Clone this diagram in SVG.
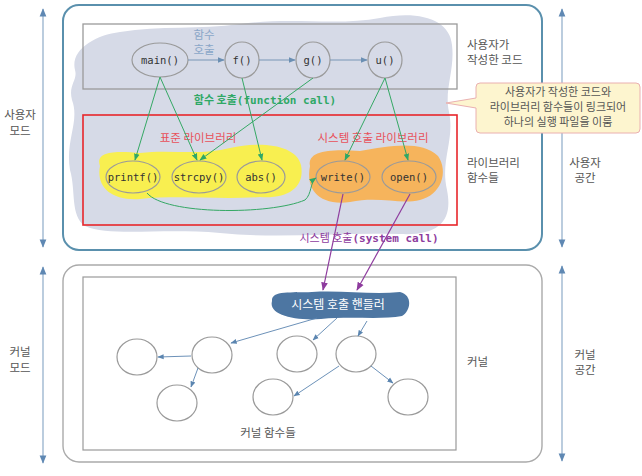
<svg xmlns="http://www.w3.org/2000/svg" width="642" height="476" viewBox="0 0 642 476">
<defs>
<style>
.kr{font-family:"Noto Sans CJK KR","Noto Sans",sans-serif;font-size:11.5px;fill:#555}
.code{font-family:"DejaVu Sans Mono","Liberation Mono",monospace;font-size:10.5px;fill:#333}
.el{fill:none;stroke:#9a9a9a;stroke-width:1.2}
.kc{fill:#fff;stroke:#9a9a9a;stroke-width:1.2}
.fc{stroke:#7896b6;stroke-width:1;fill:none}
.gc{stroke:#35a865;stroke-width:1;fill:none}
.pc{stroke:#8e3c9e;stroke-width:1.2;fill:none}
.kcn{stroke:#5b85b0;stroke-width:0.9;fill:none}
.side{stroke:#8eabc8;stroke-width:1.2;fill:none}
</style>
<marker id="ab" viewBox="0 0 10 10" refX="9" refY="5" markerWidth="7" markerHeight="7" orient="auto"><path d="M0,1 L10,5 L0,9 z" fill="#6b8fb3"/></marker>
<marker id="ag" viewBox="0 0 10 10" refX="9" refY="5" markerWidth="7" markerHeight="7" orient="auto"><path d="M0,1 L10,5 L0,9 z" fill="#2fa866"/></marker>
<marker id="ap" viewBox="0 0 10 10" refX="9" refY="5" markerWidth="7" markerHeight="7" orient="auto"><path d="M0,1 L10,5 L0,9 z" fill="#8e3c9e"/></marker>
<marker id="ak" viewBox="0 0 10 10" refX="9" refY="5" markerWidth="7" markerHeight="7" orient="auto"><path d="M0,1 L10,5 L0,9 z" fill="#5b85b0"/></marker>
<marker id="as" viewBox="0 0 10 10" refX="9" refY="5" markerWidth="7" markerHeight="7" orient="auto-start-reverse"><path d="M0,1 L10,5 L0,9 z" fill="#5f88b3"/></marker>
</defs>
<rect width="642" height="476" fill="#fff"/>

<!-- side arrows -->
<g id="side-arrows">
<line class="side" x1="43" y1="9" x2="43" y2="247" marker-start="url(#as)" marker-end="url(#as)"/>
<line class="side" x1="43" y1="267" x2="43" y2="463" marker-start="url(#as)" marker-end="url(#as)"/>
<line class="side" x1="562" y1="9" x2="562" y2="247" marker-start="url(#as)" marker-end="url(#as)"/>
<line class="side" x1="562" y1="266" x2="562" y2="461" marker-start="url(#as)" marker-end="url(#as)"/>
</g>
<g id="side-labels" class="kr">
<text x="20" y="119" text-anchor="middle">사용자</text>
<text x="20" y="135" text-anchor="middle">모드</text>
<text x="20" y="356" text-anchor="middle">커널</text>
<text x="20" y="372" text-anchor="middle">모드</text>
<text x="585" y="167" text-anchor="middle">사용자</text>
<text x="585" y="182" text-anchor="middle">공간</text>
<text x="585" y="359" text-anchor="middle">커널</text>
<text x="585" y="374" text-anchor="middle">공간</text>
</g>

<!-- user space box -->
<g id="user-space">
<rect x="63" y="5" width="479" height="245" rx="16" fill="#fff" stroke="#5a90ad" stroke-width="2"/>
<path d="M75 70 C70 50 95 35 120 32 C160 25 200 30 240 24 C290 17 340 26 380 18 C420 10 450 20 452 45 C455 70 444 90 449 112 C455 140 440 160 447 190 C453 220 440 236 400 234 C340 232 280 239 220 233 C160 228 110 237 85 226 C70 216 76 190 70 170 C65 140 80 122 72 100 C68 85 78 80 75 70 Z" fill="#d6dae7"/>
<rect x="83" y="24" width="374" height="65" fill="none" stroke="#9a9a9a" stroke-width="1.3"/>
<rect x="83" y="115" width="374" height="110" fill="none" stroke="#e8262b" stroke-width="1.6"/>
<path d="M100 166 C94 150 120 151 140 153 C170 149 200 156 230 148 C262 141 296 145 301 165 C305 186 290 199 260 197 C220 200 180 195 140 199 C110 201 96 186 100 166 Z" fill="#f8ef50"/>
<path d="M310 166 C307 150 332 149 360 151 C390 146 421 140 438 156 C449 172 441 195 420 200 C400 205 380 196 350 202 C321 206 305 191 310 166 Z" fill="#f6b45c"/>
<text class="kr" x="198" y="142" text-anchor="middle" style="fill:#e8505a">표준 라이브러리</text>
<text class="kr" x="373" y="142" text-anchor="middle" style="fill:#e8505a">시스템 호출 라이브러리</text>
<text class="kr" x="204" y="39" text-anchor="middle" style="fill:#8aa6c8">함수</text>
<text class="kr" x="204" y="54" text-anchor="middle" style="fill:#8aa6c8">호출</text>
</g>
<g id="user-labels" class="kr">
<text x="467" y="49">사용자가</text>
<text x="467" y="64">작성한 코드</text>
<text x="467" y="167">라이브러리</text>
<text x="467" y="182">함수들</text>
</g>

<!-- kernel box -->
<g id="kernel-space">
<rect x="63" y="265" width="479" height="197" rx="16" fill="#fff" stroke="#aaaaaa" stroke-width="1.4"/>
<rect x="83" y="277" width="373" height="173" fill="none" stroke="#9a9a9a" stroke-width="1.2"/>
<text class="kr" x="467" y="366">커널</text>
<text class="kr" x="268" y="437" text-anchor="middle">커널 함수들</text>
</g>

<!-- callout -->
<g id="callout">
<path d="M480 83 H636 Q640 83 640 87 V129 Q640 133 636 133 H480 Q476 133 476 129 V108 L446 103 L476 98 V87 Q476 83 480 83 Z" fill="#fdf5cf" stroke="#eab0b0" stroke-width="1"/>
<g class="kr" text-anchor="middle" style="font-size:11px">
<text x="558" y="96">사용자가 작성한 코드와</text>
<text x="558" y="111">라이브러리 함수들이 링크되어</text>
<text x="558" y="126">하나의 실행 파일을 이룸</text>
</g>
</g>

<!-- nodes: user code -->
<g id="n-main"><ellipse class="el" cx="160" cy="60" rx="28" ry="17"/><text class="code" x="160" y="64" text-anchor="middle">main()</text></g>
<g id="n-f"><ellipse class="el" cx="242" cy="60" rx="17" ry="18"/><text class="code" x="242" y="64" text-anchor="middle">f()</text></g>
<g id="n-g"><ellipse class="el" cx="313" cy="60" rx="17" ry="18"/><text class="code" x="313" y="64" text-anchor="middle">g()</text></g>
<g id="n-u"><ellipse class="el" cx="385" cy="60" rx="17" ry="18"/><text class="code" x="385" y="64" text-anchor="middle">u()</text></g>

<!-- nodes: library -->
<g id="n-printf"><ellipse class="el" cx="133" cy="177" rx="27" ry="16"/><text class="code" x="133" y="181" text-anchor="middle">printf()</text></g>
<g id="n-strcpy"><ellipse class="el" cx="199" cy="177" rx="27" ry="16"/><text class="code" x="199" y="181" text-anchor="middle">strcpy()</text></g>
<g id="n-abs"><ellipse class="el" cx="261" cy="177" rx="24" ry="16"/><text class="code" x="261" y="181" text-anchor="middle">abs()</text></g>
<g id="n-write"><ellipse class="el" cx="343" cy="177" rx="27" ry="16"/><text class="code" x="343" y="181" text-anchor="middle">write()</text></g>
<g id="n-open"><ellipse class="el" cx="409" cy="177" rx="27" ry="16"/><text class="code" x="409" y="181" text-anchor="middle">open()</text></g>

<!-- handler -->
<g id="n-handler">
<path d="M272 301 C271 290 292 293 312 292 C342 290 372 295 400 292 C413 295 411 311 402 316 C381 320 351 316 321 319 C295 321 268 315 272 301 Z" fill="#4d76a2"/>
<text class="kr" x="338" y="309" text-anchor="middle" style="fill:#fff;font-size:12px">시스템 호출 핸들러</text>
</g>

<!-- kernel function nodes -->
<g id="k1"><ellipse class="kc" cx="137" cy="357" rx="20" ry="18"/></g>
<g id="k2"><ellipse class="kc" cx="212" cy="355" rx="20" ry="18"/></g>
<g id="k3"><ellipse class="kc" cx="297" cy="354" rx="20" ry="18"/></g>
<g id="k4"><ellipse class="kc" cx="356" cy="354" rx="20" ry="18"/></g>
<g id="k5"><ellipse class="kc" cx="177" cy="403" rx="20" ry="18"/></g>
<g id="k6"><ellipse class="kc" cx="273" cy="397" rx="20" ry="18"/></g>
<g id="k7"><ellipse class="kc" cx="408" cy="397" rx="20" ry="18"/></g>

<!-- connectors -->
<g id="connectors">
<line class="fc" x1="188" y1="60" x2="224" y2="60" marker-end="url(#ab)"/>
<line class="fc" x1="259" y1="60" x2="295" y2="60" marker-end="url(#ab)"/>
<line class="fc" x1="330" y1="60" x2="367" y2="60" marker-end="url(#ab)"/>
<line class="gc" x1="160" y1="77" x2="135" y2="160" marker-end="url(#ag)"/>
<line class="gc" x1="160" y1="77" x2="197" y2="160" marker-end="url(#ag)"/>
<line class="gc" x1="313" y1="78" x2="200" y2="160" marker-end="url(#ag)"/>
<line class="gc" x1="242" y1="78" x2="262" y2="160" marker-end="url(#ag)"/>
<line class="gc" x1="385" y1="78" x2="345" y2="160" marker-end="url(#ag)"/>
<line class="gc" x1="385" y1="78" x2="408" y2="160" marker-end="url(#ag)"/>
<path class="gc" d="M147 193 C165 215 270 215 305 200 C312 194 310 182 316 178" marker-end="url(#ag)"/>
<line class="pc" x1="343" y1="194" x2="323" y2="290" marker-end="url(#ap)"/>
<line class="pc" x1="410" y1="194" x2="357" y2="290" marker-end="url(#ap)"/>
<line class="kcn" x1="317" y1="318" x2="231" y2="343" marker-end="url(#ak)"/>
<line class="kcn" x1="337" y1="318" x2="313" y2="340" marker-end="url(#ak)"/>
<line class="kcn" x1="367" y1="321" x2="358" y2="336" marker-end="url(#ak)"/>
<line class="kcn" x1="191" y1="356" x2="158" y2="357" marker-end="url(#ak)"/>
<line class="kcn" x1="198" y1="368" x2="191" y2="387" marker-end="url(#ak)"/>
<line class="kcn" x1="339" y1="366" x2="294" y2="396" marker-end="url(#ak)"/>
<line class="kcn" x1="371" y1="366" x2="393" y2="383" marker-end="url(#ak)"/>
</g>

<!-- connector labels -->
<g id="connector-labels">
<text x="265" y="104" text-anchor="middle" style="font-size:11px;font-weight:bold;fill:#2fa866"><tspan style="font-family:'Noto Sans CJK KR',sans-serif">함수 호출</tspan><tspan style="font-family:'DejaVu Sans Mono',monospace">(function call)</tspan></text>
<text x="369" y="242" text-anchor="middle" style="font-size:11px;font-weight:bold;fill:#8e3c9e"><tspan style="font-family:'Noto Sans CJK KR',sans-serif;font-weight:normal">시스템 호출</tspan><tspan style="font-family:'DejaVu Sans Mono',monospace">(system call)</tspan></text>
</g>
</svg>
